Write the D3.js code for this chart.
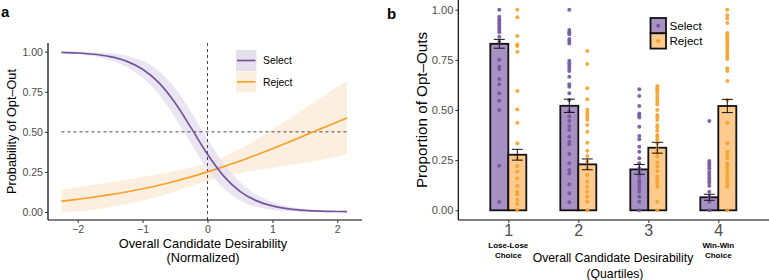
<!DOCTYPE html>
<html><head><meta charset="utf-8">
<script src="https://cdn.jsdelivr.net/npm/d3@7"></script>
<style>body{margin:0;background:#fff}svg{display:block;font-family:"Liberation Sans",Arial,sans-serif}</style>
</head><body><svg id="c" width="769" height="280"></svg>
<script>
// ---------- Panel a data ----------
const curveX      = [-2.25,-2,-1.75,-1.5,-1.25,-1,-0.75,-0.5,-0.25,0,0.25,0.5,0.75,1,1.25,1.5,1.75,2,2.15];
const selectFit   = [0.996,0.992,0.984,0.969,0.941,0.890,0.807,0.681,0.523,0.360,0.224,0.129,0.071,0.038,0.020,0.010,0.005,0.003,0.002];
const selectUpper = [1.000,0.999,0.997,0.990,0.975,0.943,0.880,0.773,0.623,0.455,0.302,0.186,0.109,0.062,0.034,0.019,0.010,0.006,0.004];
const selectLower = [0.991,0.984,0.971,0.947,0.906,0.837,0.734,0.589,0.423,0.266,0.146,0.072,0.032,0.013,0.005,0.002,0.000,0.000,0.000];
const rejectFit   = [0.068,0.079,0.093,0.108,0.125,0.145,0.167,0.192,0.219,0.250,0.283,0.318,0.356,0.395,0.436,0.478,0.520,0.562,0.587];
const rejectUpper = [0.140,0.154,0.170,0.186,0.202,0.219,0.237,0.256,0.278,0.307,0.345,0.393,0.451,0.515,0.581,0.648,0.715,0.780,0.815];
const rejectLower = [0.000,0.004,0.016,0.030,0.048,0.071,0.097,0.128,0.160,0.193,0.221,0.243,0.261,0.275,0.291,0.308,0.325,0.344,0.359];
const aXTicks = [-2,-1,0,1,2];
const aYTicks = [0,0.25,0.5,0.75,1];

// ---------- Panel b data ----------
const quartiles = ["1","2","3","4"];
const conditions = ["Select","Reject"];
const barSelect = [0.830,0.521,0.204,0.065];
const barReject = [0.277,0.229,0.312,0.520];
const seSelect  = [0.022,0.033,0.024,0.015];
const seReject  = [0.027,0.027,0.027,0.033];
const dotsSelect = [
 [1.00,0.965,0.954,0.944,0.932,0.92,0.91,0.899,0.887,0.865,0.84,0.75,0.716,0.704,0.655,0.628,0.583,0.546,0.50,0.222,0.041],
 [1.00,0.899,0.887,0.877,0.854,0.844,0.832,0.745,0.733,0.721,0.708,0.694,0.666,0.628,0.616,0.583,0.55,0.492,0.467,0.445,0.42,0.40,0.367,0.342,0.329,0.281,0.234,0.201,0.184,0.13,0.085,0.04],
 [0.603,0.57,0.52,0.483,0.472,0.462,0.417,0.37,0.354,0.317,0.292,0.259,0.234,0.209,0.192,0.171,0.151,0.138,0.121,0.106,0.093,0.068,0.043,0.0],
 [0.445,0.246,0.234,0.222,0.209,0.192,0.179,0.164,0.151,0.138,0.123,0.093,0.068,0.043,0.0]
];
const dotsReject = [
 [1.00,0.962,0.869,0.827,0.819,0.791,0.595,0.503,0.437,0.334,0.259,0.221,0.193,0.159,0.121,0.093,0.080,0.052,0.032,0.002],
 [0.794,0.729,0.608,0.553,0.503,0.488,0.475,0.464,0.45,0.425,0.392,0.337,0.297,0.271,0.242,0.209,0.176,0.143,0.118,0.093,0.068,0.043,0.0],
 [0.62,0.608,0.597,0.585,0.57,0.557,0.542,0.528,0.5,0.475,0.464,0.45,0.425,0.414,0.397,0.375,0.367,0.354,0.334,0.305,0.284,0.267,0.239,0.218,0.196,0.168,0.151,0.135,0.118,0.043,0.0],
 [1.0,0.972,0.956,0.934,0.884,0.873,0.862,0.852,0.84,0.827,0.815,0.802,0.79,0.779,0.765,0.754,0.708,0.694,0.644,0.55,0.437,0.334,0.292,0.276,0.259,0.234,0.218,0.201,0.184,0.168,0.151,0.135,0.118,0.0]
];
const bYTicks = [0,0.25,0.5,0.75,1];

// ---------- styles ----------
const PURPLE = "#73559f", ORANGE = "#f7a128";
const PURPLE_BAND = "#e5e0ee", ORANGE_BAND = "#fdefe0";
const PURPLE_BAR = "#a791c3", ORANGE_BAR = "#fdcb8e";
const TICKCOL = "#4d4d4d";

const svg = d3.select("#c");
const fmt = d3.format(".2f");
const minus = v => (v<0? "\u2212"+Math.abs(v) : String(v));

// ================= Panel a =================
const ax = d3.scaleLinear().domain([-2,2]).range([77.7,337.3]);
const ay = d3.scaleLinear().domain([0,1]).range([212,51.7]);
const A = svg.append("g");

const area = (up,lo) => d3.area().x((d,i)=>ax(curveX[i])).y0((d,i)=>ay(lo[i])).y1((d,i)=>ay(up[i])).curve(d3.curveMonotoneX)(curveX);
const line = (v) => d3.line().x((d,i)=>ax(curveX[i])).y((d,i)=>ay(v[i])).curve(d3.curveMonotoneX)(curveX);

A.append("path").attr("d",area(rejectUpper,rejectLower)).attr("fill",ORANGE_BAND);
A.append("path").attr("d",area(selectUpper,selectLower)).attr("fill",PURPLE_BAND).attr("fill-opacity",0.85);

// reference lines
A.append("line").attr("x1",ax(-2.25)).attr("x2",ax(2.15)).attr("y1",ay(0.5)).attr("y2",ay(0.5))
 .attr("stroke","#333").attr("stroke-width",0.9).attr("stroke-dasharray","3,3");
A.append("line").attr("x1",ax(0)).attr("x2",ax(0)).attr("y1",43).attr("y2",220)
 .attr("stroke","#333").attr("stroke-width",0.9).attr("stroke-dasharray","3,3");

A.append("path").attr("d",line(rejectFit)).attr("fill","none").attr("stroke",ORANGE).attr("stroke-width",1.7);
A.append("path").attr("d",line(selectFit)).attr("fill","none").attr("stroke",PURPLE).attr("stroke-width",1.7);

// axes
const axA = A.append("g").attr("transform","translate(0,220)")
 .call(d3.axisBottom(ax).tickValues(aXTicks).tickSize(3).tickPadding(2).tickFormat(minus));
axA.select(".domain").attr("d","M48,0H362").attr("stroke","#000").attr("stroke-width",1.2);
const ayA = A.append("g").attr("transform","translate(48,0)")
 .call(d3.axisLeft(ay).tickValues(aYTicks).tickSize(3).tickPadding(2).tickFormat(fmt));
ayA.select(".domain").attr("d","M0,43V220").attr("stroke","#000").attr("stroke-width",1.2);
[axA,ayA].forEach(g=>{g.selectAll(".tick line").attr("stroke","#333");
 g.selectAll(".tick text").attr("fill",TICKCOL).attr("font-size","10.6px").attr("font-family","Liberation Sans, Arial, sans-serif");});

A.append("text").attr("x",203).attr("y",248).attr("text-anchor","middle").attr("font-size","12.8px").text("Overall Candidate Desirability");
A.append("text").attr("x",203).attr("y",262).attr("text-anchor","middle").attr("font-size","12.8px").text("(Normalized)");
A.append("text").attr("transform","translate(16,131.5) rotate(-90)").attr("text-anchor","middle").attr("font-size","12.7px").text("Probability of Opt\u2013Out");
A.append("text").attr("x",1).attr("y",17).attr("font-weight","bold").attr("font-size","15px").text("a");

// legend a
const legA = [{n:"Select",band:PURPLE_BAND,col:PURPLE},{n:"Reject",band:ORANGE_BAND,col:ORANGE}];
legA.forEach((d,i)=>{
  const y0 = 50 + i*21.3;
  A.append("rect").attr("x",236).attr("y",y0).attr("width",20.5).attr("height",21).attr("fill",d.band);
  A.append("line").attr("x1",237).attr("x2",255.5).attr("y1",y0+10.5).attr("y2",y0+10.5).attr("stroke",d.col).attr("stroke-width",1.7);
  A.append("text").attr("x",263).attr("y",y0+14.3).attr("font-size","10.4px").text(d.n);
});

// ================= Panel b =================
const bx = d3.scalePoint().domain(quartiles).range([508.3,718.3]);
const by = d3.scaleLinear().domain([0,1]).range([210.3,9.7]);
const dodge = d3.scaleBand().domain(conditions).range([-18,18]).padding(0);
const B = svg.append("g");
const bw = dodge.bandwidth();
const cfg = {Select:{bars:barSelect,se:seSelect,dots:dotsSelect,bar:PURPLE_BAR,dot:PURPLE},
             Reject:{bars:barReject,se:seReject,dots:dotsReject,bar:ORANGE_BAR,dot:ORANGE}};

conditions.forEach(c=>{
  const k = cfg[c];
  B.selectAll(null).data(quartiles).join("rect")
   .attr("x",q=>bx(q)+dodge(c)).attr("width",bw)
   .attr("y",(q,i)=>by(k.bars[i])).attr("height",(q,i)=>by(0)-by(k.bars[i]))
   .attr("fill",k.bar).attr("stroke","#111").attr("stroke-width",1.8);
});
conditions.forEach(c=>{
  const k = cfg[c];
  quartiles.forEach((q,i)=>{
    B.selectAll(null).data(k.dots[i]).join("circle")
     .attr("cx",bx(q)+dodge(c)+bw/2).attr("cy",v=>by(v)).attr("r",2)
     .attr("fill",k.dot).attr("fill-opacity",0.9);
  });
});
conditions.forEach(c=>{
  const k = cfg[c];
  quartiles.forEach((q,i)=>{
    const cx = bx(q)+dodge(c)+bw/2, lo = by(k.bars[i]-k.se[i]), hi = by(k.bars[i]+k.se[i]);
    const g = B.append("g").attr("stroke","#111").attr("stroke-width",1);
    g.append("line").attr("x1",cx).attr("x2",cx).attr("y1",lo).attr("y2",hi);
    g.append("line").attr("x1",cx-5.5).attr("x2",cx+5.5).attr("y1",lo).attr("y2",lo);
    g.append("line").attr("x1",cx-5.5).attr("x2",cx+5.5).attr("y1",hi).attr("y2",hi);
  });
});

const axB = B.append("g").attr("transform","translate(0,220)")
 .call(d3.axisBottom(bx).tickSize(3).tickPadding(2));
axB.select(".domain").attr("d","M458.3,0H769").attr("stroke","#000").attr("stroke-width",1.2);
axB.selectAll(".tick text").attr("font-size","16px");
const ayB = B.append("g").attr("transform","translate(458.3,0)")
 .call(d3.axisLeft(by).tickValues(bYTicks).tickSize(3).tickPadding(2).tickFormat(fmt));
ayB.select(".domain").attr("d","M0,0V220").attr("stroke","#000").attr("stroke-width",1.2);
ayB.selectAll(".tick text").attr("font-size","11.1px");
[axB,ayB].forEach(g=>{g.selectAll(".tick line").attr("stroke","#333");
 g.selectAll(".tick text").attr("fill",TICKCOL).attr("font-family","Liberation Sans, Arial, sans-serif");});

const sub = [{q:"1",a:"Lose-Lose",b:"Choice"},{q:"4",a:"Win-Win",b:"Choice"}];
sub.forEach(d=>{
  B.append("text").attr("x",bx(d.q)).attr("y",248.3).attr("text-anchor","middle").attr("font-size","8px").attr("font-weight","bold").text(d.a);
  B.append("text").attr("x",bx(d.q)).attr("y",258.3).attr("text-anchor","middle").attr("font-size","8px").attr("font-weight","bold").text(d.b);
});
B.append("text").attr("x",613).attr("y",262.3).attr("text-anchor","middle").attr("font-size","12.2px").text("Overall Candidate Desirability");
B.append("text").attr("x",615).attr("y",277.5).attr("text-anchor","middle").attr("font-size","12.2px").text("(Quartiles)");
B.append("text").attr("transform","translate(427,110) rotate(-90)").attr("text-anchor","middle").attr("font-size","15.2px").text("Proportion of Opt\u2013Outs");
B.append("text").attr("x",387).attr("y",19).attr("font-weight","bold").attr("font-size","15px").text("b");

// legend b
conditions.forEach((c,i)=>{
  const k = cfg[c], y0 = 18 + i*15.3;
  B.append("rect").attr("x",650.5).attr("y",y0).attr("width",15.5).attr("height",15.3)
   .attr("fill",k.bar).attr("stroke","#111").attr("stroke-width",1.8);
  B.append("circle").attr("cx",658.2).attr("cy",y0+7.65).attr("r",2).attr("fill",k.dot);
  B.append("text").attr("x",669.5).attr("y",y0+11.8).attr("font-size","11.6px").text(c);
});
</script></body></html>
